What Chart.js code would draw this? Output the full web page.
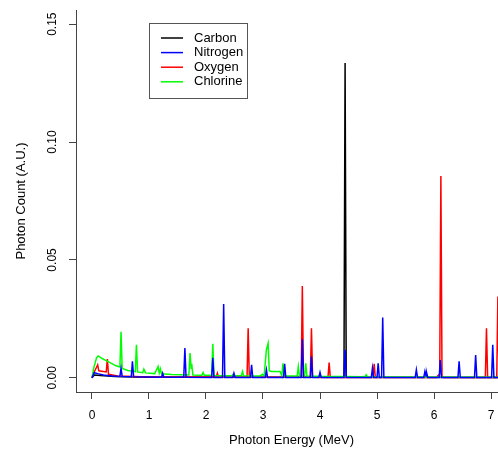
<!DOCTYPE html>
<html>
<head>
<meta charset="utf-8">
<title>Photon spectrum</title>
<script src="https://cdn.jsdelivr.net/npm/chart.js@4.4.1/dist/chart.umd.min.js"></script>
<style>
  html, body { margin: 0; padding: 0; overflow: hidden; background: #fff; }
</style>
</head>
<body>
<canvas id="spectrumChart" width="508" height="455"></canvas>
<script>
// Spectra: [energy (MeV), photon count (A.U.)]
const carbon = [
  [0, 0], [0.04, 0.0012], [0.15, 0.001], [0.4, 0.0006], [1.0, 0.0003],
  [4.42, 0.0003], [4.44, 0.1335], [4.46, 0.0003], [7.3, 0.0002],
];

const nitrogen = [
  [0, 0], [0.04, 0.0022], [0.1, 0.0018], [0.2, 0.0012], [0.35, 0.0008],
  [0.49, 0.0006], [0.51, 0.004], [0.53, 0.0006], [0.69, 0.0005], [0.71, 0.007],
  [0.73, 0.0005], [1.22, 0.0003], [1.24, 0.002], [1.26, 0.0003], [1.61, 0.0003],
  [1.63, 0.0126], [1.65, 0.0003], [2.1, 0.0002], [2.12, 0.0085], [2.14, 0.0002],
  [2.29, 0.0002], [2.31, 0.0313], [2.33, 0.0002], [2.47, 0.0002], [2.49, 0.002],
  [2.51, 0.0002], [2.78, 0.0002], [2.8, 0.0055], [2.82, 0.0002], [3.04, 0.0002],
  [3.06, 0.0034], [3.08, 0.0002], [3.36, 0.0002], [3.38, 0.006], [3.4, 0.0002],
  [3.67, 0.0002], [3.69, 0.0164], [3.71, 0.0002], [3.83, 0.0002], [3.85, 0.009],
  [3.87, 0.0002], [3.98, 0.0002], [4.0, 0.0023], [4.02, 0.0002], [4.42, 0.0002],
  [4.44, 0.0119], [4.46, 0.0002], [4.9, 0.0002], [4.92, 0.0041], [4.94, 0.0002],
  [5.0, 0.0002], [5.02, 0.0062], [5.04, 0.0002], [5.08, 0.0002], [5.1, 0.0256],
  [5.12, 0.0002], [5.67, 0.0002], [5.69, 0.0034], [5.71, 0.0002], [5.82, 0.0002],
  [5.84, 0.0027], [5.86, 0.0008], [5.87, 0.0022], [5.89, 0.0002], [6.09, 0.0002],
  [6.11, 0.0076], [6.13, 0.0002], [6.42, 0.0002], [6.44, 0.007], [6.46, 0.0002],
  [6.71, 0.0002], [6.73, 0.0097], [6.75, 0.0002], [7.01, 0.0002], [7.03, 0.014],
  [7.05, 0.0002], [7.3, 0.0002],
];

const oxygen = [
  [0, 0], [0.04, 0.0025], [0.08, 0.0045], [0.1, 0.0055], [0.12, 0.003],
  [0.17, 0.0028], [0.25, 0.0025], [0.27, 0.008], [0.29, 0.0015], [0.45, 0.0008],
  [1.0, 0.0004], [2.18, 0.0004], [2.2, 0.002], [2.22, 0.0003], [2.72, 0.0003],
  [2.74, 0.021], [2.76, 0.0003], [3.67, 0.0003], [3.69, 0.039], [3.71, 0.0003],
  [3.83, 0.0003], [3.85, 0.021], [3.87, 0.0003], [4.14, 0.0002], [4.16, 0.0065],
  [4.18, 0.0002], [4.93, 0.0002], [4.95, 0.006], [4.97, 0.0002], [6.04, 0.0002],
  [6.08, 0.0013], [6.1, 0.0015], [6.12, 0.0856], [6.14, 0.0008], [6.17, 0.0002],
  [6.9, 0.0002], [6.92, 0.021], [6.94, 0.0002], [7.1, 0.0002], [7.12, 0.0345],
  [7.14, 0.0002], [7.3, 0.0002],
];

const chlorine = [
  [0, 0], [0.03, 0.004], [0.08, 0.0085], [0.11, 0.0093], [0.18, 0.0082],
  [0.25, 0.0073], [0.35, 0.006], [0.42, 0.0051], [0.49, 0.0046], [0.51, 0.0195],
  [0.53, 0.004], [0.63, 0.0031], [0.76, 0.0026], [0.78, 0.014], [0.8, 0.0025],
  [0.89, 0.0022], [0.91, 0.0037], [0.94, 0.0021], [1.1, 0.0018], [1.16, 0.0048],
  [1.18, 0.002], [1.2, 0.0038], [1.22, 0.0017], [1.4, 0.0014], [1.7, 0.0012],
  [1.72, 0.0105], [1.74, 0.004], [1.75, 0.006], [1.77, 0.0012], [1.93, 0.0011],
  [1.95, 0.0023], [1.97, 0.0011], [2.1, 0.0011], [2.12, 0.0144], [2.14, 0.001],
  [2.45, 0.0009], [2.48, 0.0016], [2.5, 0.0009], [2.62, 0.0009], [2.64, 0.0027],
  [2.66, 0.0009], [2.95, 0.0008], [2.99, 0.0015], [3.02, 0.0008], [3.06, 0.012],
  [3.09, 0.0147], [3.11, 0.003], [3.15, 0.0027], [3.3, 0.0027], [3.33, 0.0009],
  [3.35, 0.0062], [3.37, 0.0008], [3.6, 0.0008], [3.62, 0.0048], [3.64, 0.0008],
  [3.73, 0.0008], [3.75, 0.0062], [3.77, 0.0008], [3.98, 0.0007], [4.0, 0.0013],
  [4.02, 0.0006], [4.4, 0.0006], [4.79, 0.0005], [4.81, 0.0013], [4.83, 0.0005],
  [5.5, 0.0004], [7.3, 0.0003],
];

const energyTicks = [0, 1, 2, 3, 4, 5, 6, 7];
const countTicks = [0, 0.05, 0.1, 0.15];

const fontFamily = "'Liberation Sans', Arial, Helvetica, sans-serif";
const axisColor = "#444";

const toPoints = (rows) => rows.map(([x, y]) => ({ x, y }));

// R style: y tick labels are turned on their side
const yTickLabels = {
  id: "yTickLabels",
  afterDraw(chart) {
    const scale = chart.scales.y;
    const c = chart.ctx;
    c.save();
    c.font = "12px " + fontFamily;
    c.fillStyle = "#000";
    c.textAlign = "center";
    c.textBaseline = "middle";
    scale.ticks.forEach((t) => {
      const y = scale.getPixelForValue(t.value);
      c.save();
      c.translate(scale.right - 23, y);
      c.rotate(-Math.PI / 2);
      c.fillText(t.value.toFixed(2), 0, 0);
      c.restore();
    });
    c.restore();
  },
};

// boxed legend inside the plot, top left
const boxLegend = {
  id: "boxLegend",
  afterDraw(chart) {
    const c = chart.ctx;
    const sets = chart.data.datasets;
    c.save();
    c.strokeStyle = "#555";
    c.lineWidth = 1;
    c.strokeRect(149.5, 23.5, 98, 75);
    c.font = "13px " + fontFamily;
    c.textBaseline = "middle";
    c.textAlign = "left";
    sets.forEach((ds, i) => {
      const y = 38 + i * 14.6;
      c.strokeStyle = ds.borderColor;
      c.lineWidth = 1.5;
      c.beginPath();
      c.moveTo(161, y);
      c.lineTo(183, y);
      c.stroke();
      c.fillStyle = "#000";
      c.fillText(ds.label, 194, y);
    });
    c.restore();
  },
};

const ctx = document.getElementById("spectrumChart").getContext("2d");

new Chart(ctx, {
  type: "line",
  data: {
    datasets: [
      { label: "Carbon", data: toPoints(carbon), borderColor: "#000000", order: 3 },
      { label: "Nitrogen", data: toPoints(nitrogen), borderColor: "#0000FF", order: 0 },
      { label: "Oxygen", data: toPoints(oxygen), borderColor: "#FF0000", order: 2 },
      { label: "Chlorine", data: toPoints(chlorine), borderColor: "#00FF00", order: 1 },
    ],
  },
  options: {
    responsive: false,
    animation: false,
    layout: { padding: { top: 10, right: 1, left: 0, bottom: 0 } },
    elements: {
      point: { radius: 0 },
      line: { borderWidth: 1.5, tension: 0, fill: false },
    },
    plugins: {
      legend: { display: false },
      tooltip: { enabled: false },
    },
    scales: {
      x: {
        type: "linear",
        min: -0.28,
        max: 7.28,
        afterBuildTicks: (s) => {
          s.ticks = energyTicks.map((v) => ({ value: v }));
        },
        afterFit: (s) => {
          s.height = 63;
        },
        grid: { drawOnChartArea: false, drawTicks: true, tickLength: 7, color: axisColor },
        border: { display: true, color: axisColor },
        ticks: {
          padding: 9,
          color: "#000",
          maxRotation: 0,
          font: { family: fontFamily, size: 12 },
        },
        title: {
          display: true,
          text: "Photon Energy (MeV)",
          color: "#000",
          font: { family: fontFamily, size: 13 },
          padding: { top: 0, bottom: 7 },
        },
      },
      y: {
        type: "linear",
        min: -0.006,
        max: 0.156,
        afterBuildTicks: (s) => {
          s.ticks = countTicks.map((v) => ({ value: v }));
        },
        afterFit: (s) => {
          s.width = 76;
        },
        grid: { drawOnChartArea: false, drawTicks: true, tickLength: 7, color: axisColor },
        border: { display: true, color: axisColor },
        ticks: { display: false },
        title: {
          display: true,
          text: "Photon Count (A.U.)",
          color: "#000",
          font: { family: fontFamily, size: 13 },
          padding: { top: 14, bottom: 0 },
        },
      },
    },
  },
  plugins: [yTickLabels, boxLegend],
});
</script>
</body>
</html>
